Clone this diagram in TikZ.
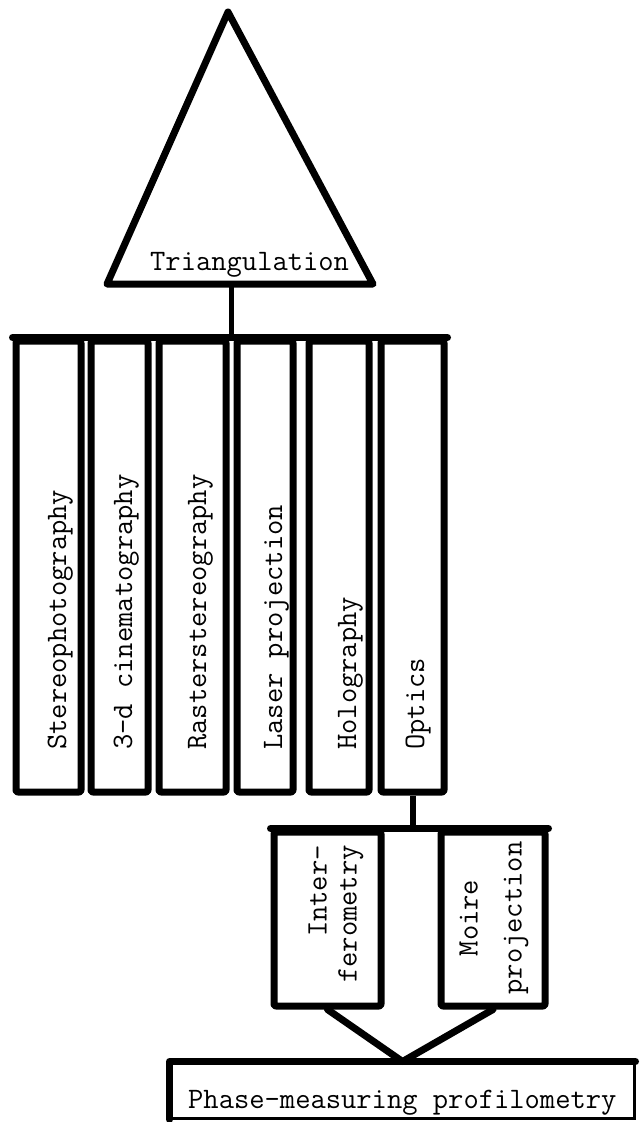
\documentclass[tikz,border=0pt]{standalone}
\usetikzlibrary{positioning}
\tikzset{
  heavy/.style={line width=7pt, line join=round, line cap=round},
  link/.style={line width=5pt},
  colbox/.style={draw, heavy, rounded corners=2pt, minimum height=451, inner sep=0pt},
  lowbox/.style={draw, heavy, rounded corners=2pt, minimum height=174, inner sep=0pt},
  lbl/.style={font=\ttfamily\fontsize{29.7}{32}\selectfont, inner sep=0pt},
  vlbl/.style={lbl, rotate=90, anchor=base west}
}

\begin{document}
\begin{tikzpicture}[x=1pt,y=-1pt]
	\useasboundingbox (0,0) rectangle (641,1122);
	% triangle on top
	\coordinate (apex) at (228,12);
	\coordinate (tribl) at (107,284);
	\coordinate (tribr) at (373,284);
	\coordinate (trib) at (231,284);
	\draw[heavy] (apex) -- (tribl) -- (tribr) -- cycle;
	\node[lbl, anchor=base west] (tri) at (150,270) {Triangulation};
	% six columns
	\node[colbox, minimum width=65] (c1) at (48.5,566.5) {};
	\node[colbox, minimum width=57] (c2) at (119.5,566.5) {};
	\node[colbox, minimum width=67] (c3) at (192.5,566.5) {};
	\node[colbox, minimum width=56] (c4) at (265,566.5) {};
	\node[colbox, minimum width=60] (c5) at (339,566.5) {};
	\node[colbox, minimum width=63] (c6) at (412.5,566.5) {};
	\draw[heavy] (c1.north west) -- (c6.north east);
	\draw[link] (trib) -- (trib |- c1.north);
	\node[vlbl] (t1) at (66,750) {Stereophotography};
	\node[vlbl] (t2) at (132,750) {3-d cinematography};
	\node[vlbl] (t3) at (206,750) {Rasterstereography};
	\node[vlbl] (t4) at (282,750) {Laser projection};
	\node[vlbl] (t5) at (356,750) {Holography};
	\node[vlbl] (t6) at (424,750) {Optics};
	% optics branch
	\node[lowbox, minimum width=107] (inter) at (327.5,919) {};
	\node[lowbox, minimum width=104] (moire) at (493,919) {};
	\draw[heavy] (inter.north west) -- (moire.north east);
	\coordinate (optj) at (c6.south |- inter.north);
	\draw[link, line width=6pt] (c6.south) -- (optj);
	\node[lbl, rotate=90, align=right, anchor=east] (tint) at (336,845) {Inter-\\[-2pt]ferometry};
	\node[lbl, rotate=90, align=center] (tmoi) at (494,918) {Moire\\[12pt]projection};
	% result
	\node[draw, line width=3pt, minimum width=463, minimum height=55, inner sep=0pt] (pmp) at (402.5,1090.5) {};
	\draw[heavy] (pmp.south west) -- (pmp.north west) -- (pmp.north east);
	\draw[heavy] (inter.south) -- (pmp.north) -- (moire.south);
	\node[lbl, anchor=base west] (tpmp) at (188,1108) {Phase-measuring profilometry};
\end{tikzpicture}
\end{document}
